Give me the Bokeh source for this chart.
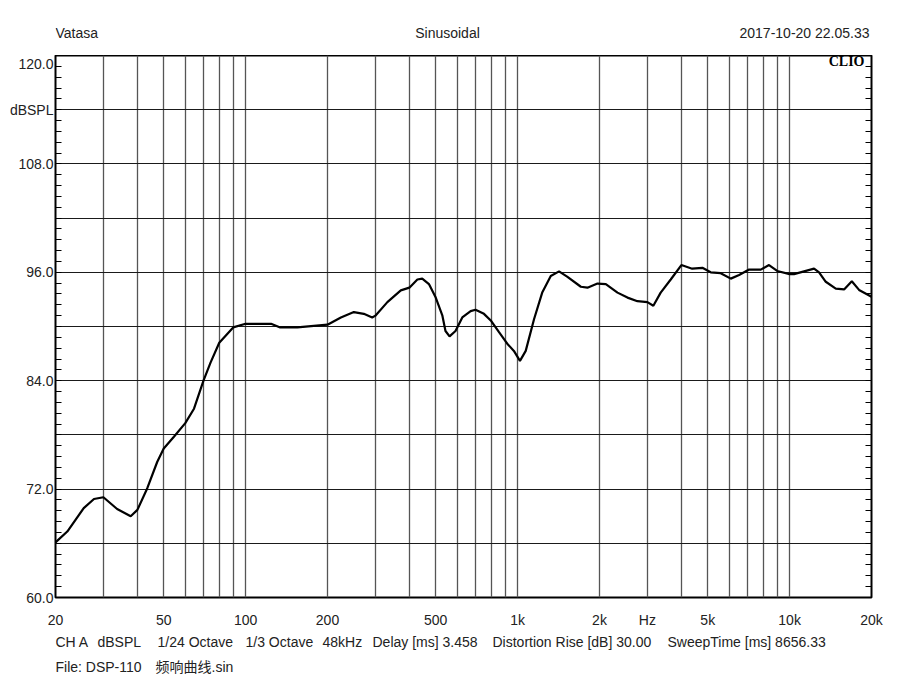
from bokeh.plotting import figure
from bokeh.models import FixedTicker, LinearAxis, Label, Range1d
from bokeh.layouts import column
from bokeh.core.properties import value
from bokeh.embed import file_html
from bokeh.resources import INLINE

# ---- data ----
freq = [20, 22.1, 25.4, 27.7, 30, 33.7, 37.8, 40, 43.5, 47.3, 50, 54.5, 60, 64.6,
        70, 74.3, 80, 90, 100, 124, 134, 155, 200, 224, 250, 272, 292, 300, 332,
        372, 400, 428, 446, 472, 500, 529, 543, 562, 591, 626, 672, 700, 752, 800,
        853, 916, 969, 1020, 1071, 1149, 1233, 1324, 1420, 1525, 1708, 1806, 1966,
        2110, 2329, 2535, 2757, 3000, 3155, 3357, 3655, 4000, 4383, 4779, 5126,
        5580, 6077, 6520, 7096, 7835, 8400, 9000, 10000, 10380, 11300, 12300,
        12830, 13580, 14780, 15860, 16930, 18000, 20000]
spl = [66.1, 67.3, 69.9, 70.9, 71.1, 69.8, 69.0, 69.7, 72.1, 75.0, 76.5, 77.8, 79.3, 80.9,
       84.0, 86.0, 88.2, 89.9, 90.3, 90.3, 89.9, 89.9, 90.2, 91.0, 91.6, 91.4, 91.0, 91.2, 92.7,
       94.0, 94.3, 95.2, 95.3, 94.7, 93.2, 91.2, 89.5, 88.9, 89.5, 91.0, 91.7, 91.85, 91.4, 90.6,
       89.4, 88.1, 87.3, 86.2, 87.3, 90.8, 93.8, 95.6, 96.1, 95.5, 94.4, 94.3, 94.75,
       94.7, 93.75, 93.2, 92.8, 92.7, 92.3, 93.75, 95.2, 96.8, 96.4, 96.5, 96.0,
       95.9, 95.3, 95.7, 96.3, 96.3, 96.8, 96.15, 95.8, 95.8, 96.1, 96.4,
       96.0, 94.95, 94.2, 94.1, 95.0, 94.05, 93.3]

x_ticks = [20, 50, 100, 200, 500, 1000, 2000, 3000, 5000, 10000, 20000]
x_tick_labels = ["20", "50", "100", "200", "500", "1k", "2k", "Hz", "5k", "10k", "20k"]
x_grid = [20, 30, 40, 50, 60, 70, 80, 90, 100, 200, 300, 400, 500, 600, 700, 800, 900,
          1000, 2000, 3000, 4000, 5000, 6000, 7000, 8000, 9000, 10000, 20000]
y_ticks = [60, 72, 84, 96, 108, 114, 120]
y_tick_labels = ["60.0", "72.0", "84.0", "96.0", "108.0", "dBSPL", "120.0"]
y_grid = [66, 72, 78, 84, 90, 96, 102, 108, 114]
y_minor = [round(60 + 1.2 * i, 1) for i in range(51)]

header_left = ["Vatasa"]
header_center = ["Sinusoidal"]
header_right = ["2017-10-20 22.05.33"]
footer1 = ["CH A", "dBSPL", "1/24 Octave", "1/3 Octave", "48kHz", "Delay [ms] 3.458",
           "Distortion Rise [dB] 30.00", "SweepTime [ms] 8656.33"]
footer2 = ["File: DSP-110", "频响曲线.sin"]

FONT = "Liberation Sans, Noto Sans CJK SC"
TXT = "#222222"
W = 898
FL, FR = 55, 871          # frame left / right on the page (frames are aligned in the column)


def text_fig(h):
    f = figure(width=W, height=h, x_range=Range1d(FL, FR), y_range=Range1d(h, 0),
               output_backend="svg", toolbar_location=None, tools="",
               min_border=0, x_axis_location=None, y_axis_location=None)
    f.grid.visible = False
    f.outline_line_color = None
    f.background_fill_color = "white"
    f.border_fill_color = "white"
    return f


def put(f, xs, ys, texts, align):
    f.text(x=xs, y=ys, text=texts, text_align=align, text_baseline="middle",
           text_font=value(FONT), text_font_size="14px", text_color=TXT)


# ---- header ----
HEAD_H = 55
head = text_fig(HEAD_H)
put(head, [55], [32], header_left, "left")
put(head, [447], [32], header_center, "center")
put(head, [869], [32], header_right, "right")

# ---- main plot ----
MAIN_H = 575
p = figure(width=W, height=MAIN_H,
           x_axis_type="log", x_range=Range1d(20, 20000), y_range=Range1d(60, 120),
           output_backend="svg", toolbar_location=None, tools="",
           min_border_left=FL, min_border_right=W - FR, min_border_top=0, min_border_bottom=30)
p.background_fill_color = "white"
p.border_fill_color = "white"
p.outline_line_color = "black"
p.outline_line_width = 2

p.xgrid.ticker = FixedTicker(ticks=x_grid)
p.xgrid.grid_line_color = "#555555"
p.xgrid.grid_line_width = 1.3
p.ygrid.ticker = FixedTicker(ticks=y_grid)
p.ygrid.grid_line_color = "#1a1a1a"
p.ygrid.grid_line_width = 1.2

xa = p.xaxis[0]
xa.ticker = FixedTicker(ticks=x_ticks)
xa.major_label_overrides = {float(t): l for t, l in zip(x_ticks, x_tick_labels)}
xa.axis_line_color = None
xa.major_tick_line_color = None
xa.minor_tick_line_color = None
xa.major_label_standoff = 8
xa.major_label_text_font = FONT
xa.major_label_text_font_size = "14px"
xa.major_label_text_color = TXT

ya = p.yaxis[0]
ya.ticker = FixedTicker(ticks=y_ticks, minor_ticks=y_minor)
ya.major_label_overrides = {float(t): l for t, l in zip(y_ticks, y_tick_labels)}
ya.axis_line_color = None
ya.major_tick_line_color = None
ya.major_tick_in = 0
ya.major_tick_out = 0
ya.minor_tick_in = 6
ya.minor_tick_out = 0
ya.minor_tick_line_color = "black"
ya.minor_tick_line_width = 1.2
ya.major_label_standoff = 2
ya.major_label_text_font = FONT
ya.major_label_text_font_size = "14px"
ya.major_label_text_color = TXT

ra = LinearAxis(ticker=FixedTicker(ticks=[], minor_ticks=y_minor))
ra.axis_line_color = None
ra.major_tick_line_color = None
ra.major_tick_in = 0
ra.major_tick_out = 0
ra.minor_tick_in = 6
ra.minor_tick_out = 0
ra.minor_tick_line_color = "black"
ra.minor_tick_line_width = 1.2
ra.major_label_text_font_size = "0px"
ra.major_label_standoff = 0
p.add_layout(ra, "right")

p.line(freq, spl, line_color="black", line_width=2.2)

p.add_layout(Label(x=809, y=536, x_units="screen", y_units="screen", text="CLIO",
                   text_align="right", text_baseline="middle", text_font="Liberation Serif",
                   text_font_style="bold", text_font_size="14px", text_color="black"))

# ---- footer ----
FOOT_H = 60
foot = text_fig(FOOT_H)
put(foot, [55, 97, 157, 245, 322, 372, 492, 667], [11] * 8, footer1, "left")
put(foot, [55, 155], [36, 36], footer2, "left")

layout = column(head, p, foot, spacing=0)
open("out.html", "w").write(file_html(layout, INLINE))
